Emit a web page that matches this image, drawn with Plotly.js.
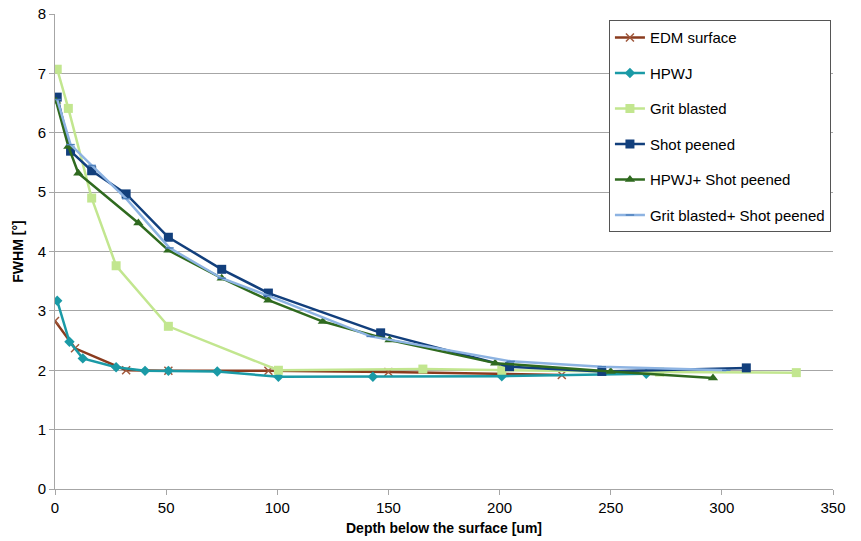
<!DOCTYPE html>
<html>
<head>
<meta charset="utf-8">
<script src="https://cdn.plot.ly/plotly-3.0.1.min.js"></script>
<style>html,body{margin:0;padding:0;background:#fff;}#chart{width:861px;height:541px;}</style>
</head>
<body>
<div id="chart"></div>
<script>
var seriesNames = ["EDM surface", "HPWJ", "Grit blasted", "Shot peened", "HPWJ+ Shot peened", "Grit blasted+ Shot peened"];

var edmX = [0, 9, 32, 51, 96, 150, 228];
var edmY = [2.83, 2.37, 2.0, 1.99, 1.99, 1.97, 1.92];

var hpwjX = [1, 6.5, 12.5, 27.5, 40.5, 51, 73, 100.5, 143, 201, 266];
var hpwjY = [3.17, 2.48, 2.2, 2.05, 1.99, 1.99, 1.98, 1.89, 1.89, 1.9, 1.94];

var gritX = [1, 6, 16.5, 27.5, 51, 100.5, 165.5, 201, 272, 333.5];
var gritY = [7.07, 6.41, 4.9, 3.76, 2.74, 2.0, 2.02, 2.0, 1.97, 1.96];

var spX = [1, 7, 16.5, 32, 51, 75, 96, 146.5, 204.5, 246, 311];
var spY = [6.6, 5.69, 5.36, 4.97, 4.24, 3.7, 3.3, 2.63, 2.06, 1.98, 2.04];

var hpwjSpX = [0.5, 6, 10.5, 37.5, 51, 75, 96, 120.5, 150.5, 198, 250, 296];
var hpwjSpY = [6.53, 5.77, 5.32, 4.48, 4.02, 3.55, 3.18, 2.82, 2.51, 2.12, 1.98, 1.87];

var gritSpX = [1, 7, 16.5, 32, 51.5, 75, 95.5, 142, 205, 246, 302];
var gritSpY = [6.56, 5.8, 5.45, 4.89, 4.06, 3.55, 3.26, 2.57, 2.15, 2.06, 2.0];

var xTicks = [0, 50, 100, 150, 200, 250, 300, 350];
var yTicks = [0, 1, 2, 3, 4, 5, 6, 7, 8];

function tr(name, x, y, color, sym, size, mcolor, group) {
  return {
    type: "scatter", mode: "lines+markers", name: name, x: x, y: y,
    legendgroup: group,
    line: {color: color, width: 2.5},
    marker: {symbol: sym, size: size, color: mcolor || color, line: {color: mcolor || color, width: (sym === "x-thin-open" || sym === "line-ew-open") ? 1.5 : 0}}
  };
}

var data = [
  tr(seriesNames[0], edmX, edmY, "#8A3B1E", "x-thin-open", 8, "#A0583C", "g1"),
  tr(seriesNames[1], hpwjX, hpwjY, "#1A9AA6", "diamond", 8, null, "g2"),
  tr(seriesNames[2], gritX, gritY, "#C2E68F", "square", 9, null, "g3"),
  tr(seriesNames[3], spX, spY, "#123F7C", "square", 9, null, "g4"),
  tr(seriesNames[4], hpwjSpX, hpwjSpY, "#2F6A1F", "triangle-up", 9, null, "g5"),
  tr(seriesNames[5], gritSpX, gritSpY, "#8DB3E2", "line-ew-open", 6, "#4F81BD", "g6")
];

var layout = {
  width: 861, height: 541,
  margin: {l: 55, r: 28, t: 14, b: 52},
  paper_bgcolor: "#ffffff", plot_bgcolor: "#ffffff",
  font: {family: "Liberation Sans, Arial, sans-serif", size: 15, color: "#000"},
  showlegend: true,
  legend: {
    x: 0.712, y: 0.987, xanchor: "left", yanchor: "top",
    bgcolor: "#ffffff", bordercolor: "#555555", borderwidth: 1,
    font: {family: "Liberation Sans, Arial, sans-serif", size: 15, color: "#000"},
    traceorder: "grouped", tracegroupgap: 13, itemwidth: 30
  },
  xaxis: {
    range: [0, 350], tickvals: xTicks, ticktext: xTicks.map(String),
    showgrid: false, zeroline: false,
    showline: true, linecolor: "#a6a6a6", linewidth: 1,
    ticks: "outside", ticklen: 5, tickcolor: "#a6a6a6",
    tickfont: {size: 15},
    title: {text: "<b>Depth below the surface [um]</b>", font: {size: 14}, standoff: 8}
  },
  yaxis: {
    range: [0, 8], tickvals: yTicks, ticktext: yTicks.map(String),
    showgrid: true, gridcolor: "#a6a6a6", gridwidth: 1, zeroline: false,
    showline: true, linecolor: "#a6a6a6", linewidth: 1,
    ticks: "outside", ticklen: 5, tickcolor: "#a6a6a6",
    tickfont: {size: 15},
    title: {text: "<b>FWHM [°]</b>", font: {size: 14}, standoff: 10}
  }
};

Plotly.newPlot("chart", data, layout, {displayModeBar: false, staticPlot: true});
</script>
</body>
</html>
